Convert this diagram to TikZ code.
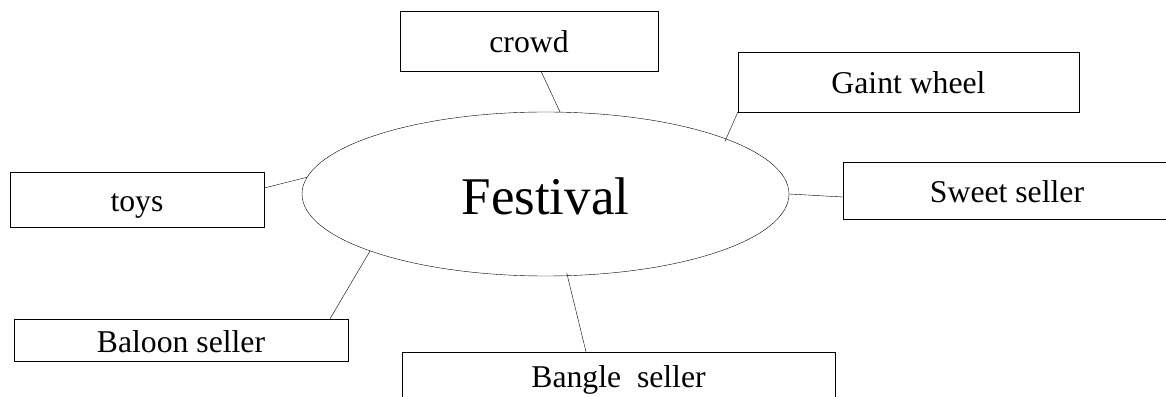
\documentclass[tikz,border=0pt]{standalone}
\usepackage{fontspec}
\setmainfont{Liberation Serif}
\usetikzlibrary{shapes.geometric}
\tikzset{
    x=1pt, y=1pt,                               % one unit per pixel of the sketch
    line width=1.3pt,
    box/.style={draw, rectangle, inner sep=0pt, font=\fontsize{31.7}{38}\selectfont,
        text height=31pt, text depth=7pt},      % the topic boxes
    hub/.style={draw, ellipse, inner sep=0pt, font=\fontsize{53}{60}\selectfont,
        text height=50pt, text depth=8pt},      % the middle word
}

\begin{document}
\begin{tikzpicture}
\useasboundingbox (0,0) rectangle (1166,396);

\node[hub, minimum width=487, minimum height=164] (fest) at (545.5,202) {Festival};

\node[box, minimum width=258, minimum height=60] (crowd) at (529,355) {crowd};
\node[box, minimum width=341, minimum height=60] (wheel) at (908.5,314) {Gaint wheel};
\node[box, minimum width=328, minimum height=57] (sweet) at (1007,205.5) {Sweet seller};
\node[box, minimum width=254, minimum height=55] (toys) at (137,196.5) {toys};
\node[box, minimum width=334, minimum height=42] (baloon) at (181,56) {Baloon seller};
\node[box, minimum width=433, minimum height=46] (bangle) at (618.5,21) {Bangle\ \ seller};

\draw ([xshift=12]crowd.south) -- (fest.80);
\draw[shorten >=-3] (wheel.south west) -- (fest.17);
\draw (fest.east) -- ([yshift=-6.5]sweet.west);
\draw ([yshift=11.5]toys.east) -- (fest.176);
\draw ([xshift=149]baloon.north) -- (fest.198.6);
\draw[shorten >=-3] ([xshift=-32.5]bangle.north) -- (fest.285.4);

\end{tikzpicture}
\end{document}
